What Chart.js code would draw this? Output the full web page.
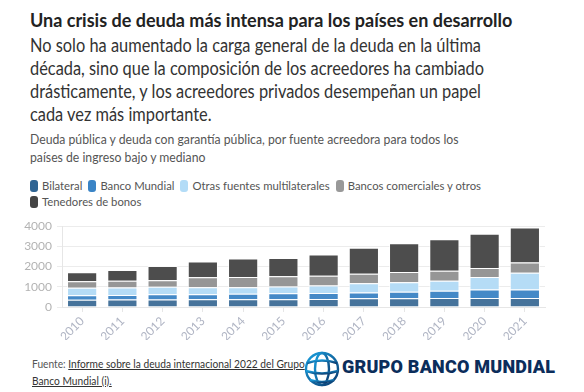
<!DOCTYPE html>
<html>
<head>
<meta charset="utf-8">
<script src="https://cdn.jsdelivr.net/npm/chart.js@4"></script>
<style>
  body { margin: 0; width: 584px; height: 392px; background: #fff; font-family: Lato, 'Open Sans', sans-serif; position: relative; overflow: hidden; }
  .title { position: absolute; left: 30px; top: 9px; font-size: 18px; font-weight: 700; color: #222; white-space: nowrap; }
  .sub { position: absolute; left: 30px; top: 34px; font-size: 18.5px; line-height: 23px; color: #333; white-space: nowrap; transform: scaleX(0.885); transform-origin: 0 0; }
  .desc { position: absolute; left: 30px; top: 130px; font-size: 13px; line-height: 18px; color: #555; white-space: nowrap; transform: scaleX(0.94); transform-origin: 0 0; }
  #legend { position: absolute; left: 30px; top: 178px; width: 500px; font-size: 11.3px; line-height: 16px; color: #555; }
  #legend span.item { display: inline-block; margin-right: 6px; white-space: nowrap; }
  #legend i { display: inline-block; width: 8px; height: 12px; border-radius: 3px; vertical-align: -2px; margin-right: 4px; }
  #wrap { position: absolute; left: 0; top: 214px; width: 560px; height: 126px; }
  .foot { position: absolute; left: 32px; top: 355px; font-size: 12px; line-height: 17px; color: #555; white-space: nowrap; transform: scaleX(0.85); transform-origin: 0 0; }
  .foot a { color: #333; text-decoration: underline; }
  .logo { position: absolute; left: 303px; top: 347px; }
  .logotext { position: absolute; left: 342px; top: 356px; font-family: Roboto, sans-serif; font-weight: 900; font-size: 18px; color: #0b2d5b; white-space: nowrap; letter-spacing: 0.2px; }
</style>
</head>
<body>
<div class="title">Una crisis de deuda más intensa para los países en desarrollo</div>
<div class="sub">No solo ha aumentado la carga general de la deuda en la última<br>década, sino que la composición de los acreedores ha cambiado<br>drásticamente, y los acreedores privados desempeñan un papel<br>cada vez más importante.</div>
<div class="desc">Deuda pública y deuda con garantía pública, por fuente acreedora para todos los<br>países de ingreso bajo y mediano</div>
<div id="legend"></div>
<div id="wrap"><canvas id="chart"></canvas></div>
<div class="foot">Fuente: <a>Informe sobre la deuda internacional 2022 del Grupo<br>Banco Mundial (i).</a></div>
<svg class="logo" width="38" height="44" viewBox="0 0 38 44">
  <defs>
    <linearGradient id="g" x1="0" y1="0" x2="1" y2="1">
      <stop offset="0" stop-color="#19a0e0"/>
      <stop offset="1" stop-color="#0b3a6e"/>
    </linearGradient>
  </defs>
  <g fill="none" stroke="url(#g)" stroke-width="2.4">
    <circle cx="19" cy="22" r="16"/>
    <ellipse cx="19" cy="22" rx="7" ry="16"/>
    <line x1="19" y1="6" x2="19" y2="38"/>
    <path d="M4 16 Q19 11 34 16"/>
    <path d="M3 24 Q19 29 35 24"/>
    <path d="M7 33 Q19 37 31 33"/>
  </g>
</svg>
<div class="logotext">GRUPO BANCO MUNDIAL</div>
<script>
const years = ['2010', '2011', '2012', '2013', '2014', '2015', '2016', '2017', '2018', '2019', '2020', '2021']
const seriesNames = ['Bilateral', 'Banco Mundial', 'Otras fuentes multilaterales', 'Bancos comerciales y otros', 'Tenedores de bonos']
const legendColors = ['#2f6493', '#3a84c6', '#b3dcf7', '#999999', '#444444']
const barColors = ['#46739b', '#4489c7', '#b5dcf6', '#969696', '#4d4d4d']

const bilateral = [360, 370, 370, 380, 380, 380, 390, 430, 430, 440, 450, 450]
const worldBank = [220, 230, 260, 250, 270, 300, 300, 290, 320, 370, 420, 420]
const otherMultilateral = [370, 370, 370, 350, 330, 340, 380, 460, 480, 490, 610, 830]
const commercial = [320, 330, 330, 490, 500, 500, 480, 470, 500, 500, 450, 500]
const bonds = [450, 530, 700, 780, 920, 910, 1050, 1280, 1420, 1550, 1700, 1730]

const yTicks = [0, 1000, 2000, 3000, 4000]

const seriesData = [bilateral, worldBank, otherMultilateral, commercial, bonds]

function buildLegend() {
  const el = document.getElementById('legend')
  el.innerHTML = seriesNames.map((n, i) =>
    `<span class="item"><i style="background:${legendColors[i]}"></i>${n}</span>`
  ).join('')
}

function drawChart() {
  const tickColor = '#b3b3b3'
  new Chart(document.getElementById('chart'), {
    type: 'bar',
    data: {
      labels: years,
      datasets: seriesData.map((d, i) => ({
        label: seriesNames[i],
        data: d,
        backgroundColor: barColors[i],
        borderColor: 'rgba(255,255,255,0.75)',
        borderWidth: 1,
        barPercentage: 0.75,
        categoryPercentage: 1
      }))
    },
    options: {
      responsive: true,
      maintainAspectRatio: false,
      animation: false,
      layout: { padding: { top: 2, right: 15, left: 0, bottom: 0 } },
      plugins: { legend: { display: false }, tooltip: { enabled: false } },
      scales: {
        x: {
          stacked: true,
          grid: { offset: false, drawOnChartArea: false, color: '#e6e6e6', tickLength: 5 },
          border: { color: '#e6e6e6' },
          ticks: { color: '#b0b5c4', font: { family: 'Lato', size: 12 }, minRotation: 45, maxRotation: 45, padding: 2 },
          afterFit: s => { s.height = 33 }
        },
        y: {
          stacked: true,
          min: 0,
          max: 4000,
          grid: { color: '#ececec', tickLength: 5 },
          border: { color: '#e6e6e6' },
          ticks: {
            stepSize: 500,
            color: tickColor,
            font: { family: 'Lato', size: 12 },
            padding: 5,
            callback: v => yTicks.includes(v) ? v : ''
          },
          afterFit: s => { s.width = 62 }
        }
      }
    }
  })
}

buildLegend()
drawChart()
</script>
</body>
</html>
